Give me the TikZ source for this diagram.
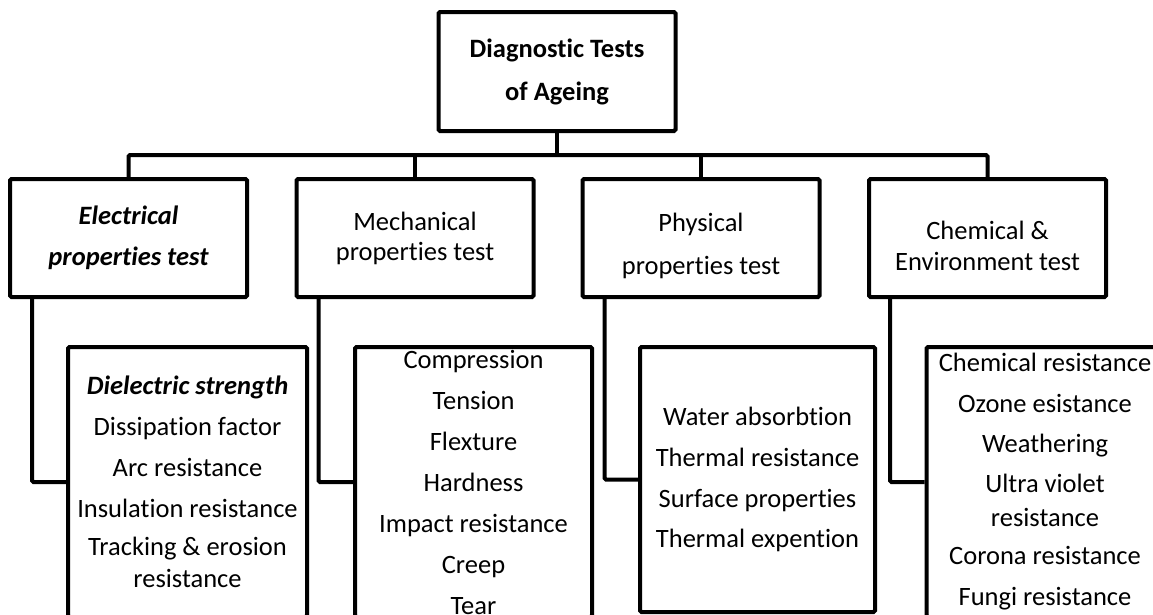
\documentclass[tikz,border=0pt]{standalone}
\usepackage{fontspec}
\setmainfont{Carlito}[Ligatures=CommonOff]

\tikzset{
  headbox/.style={draw, line width=4pt, rounded corners=1.5pt, align=center,
    inner sep=0pt, minimum width=237pt, minimum height=118pt},
  listbox/.style={draw, line width=4pt, rounded corners=1.5pt, align=center,
    inner sep=0pt, minimum width=237pt, minimum height=270pt},
  link/.style={line width=4pt, rounded corners=1.5pt},
}

\begin{document}
\begin{tikzpicture}[x=1pt, y=-1pt, font=\fontsize{26.5}{32}\selectfont]
    \useasboundingbox (0,0) rectangle (1153,614);

    \node (root) [headbox, minimum height=119pt, font=\fontsize{26.5}{32}\selectfont\bfseries] at (557,71.5) {Diagnostic Tests\\[11pt] of Ageing};

    \node (elec) [headbox, font=\fontsize{26.5}{32}\selectfont\bfseries\itshape] at (128.5,238) {Electrical\\[9pt] properties test};
    \node (mech) [headbox] at (415,238) {Mechanical\\[-2pt] properties test};
    \node (phys) [headbox] at (701,238) {\rule{0pt}{34pt}Physical\\[11pt] properties test};
    \node (chem) [headbox] at (987.5,238) {\rule{0pt}{34pt}Chemical \&\\[-1pt] Environment test};

    \node (elist) [listbox, minimum width=239pt] at (187.5,482) {\textbf{\textit{Dielectric strength}}\\[9pt] Dissipation factor\\[9pt] Arc resistance\\[9pt] Insulation resistance\\[6pt] Tracking \& erosion\\ resistance};
    \node (mlist) [listbox] at (473.5,482) {Compression\\[9pt] Tension\\[9pt] Flexture\\[9pt] Hardness\\[9pt] Impact resistance\\[9pt] Creep\\[9pt] Tear};
    \node (plist) [listbox, minimum width=235pt, minimum height=265pt] at (757.5,479.5) {Water absorbtion\\[9pt] Thermal resistance\\[9pt] Surface properties\\[8pt] Thermal expention};
    \node (clist) [listbox] at (1045,482) {Chemical resistance\\[9pt] Ozone esistance\\[8pt] Weathering\\[8pt] Ultra violet\\[2pt] resistance\\[6pt] Corona resistance\\[9pt] Fungi resistance};

    % tree from the root
    \coordinate (bus) at (557,155);
    \draw [link] (root.south) -- (bus);
    \draw [link] (elec.north) |- (bus) -| (chem.north);
    \draw [link] (mech.north) -- (mech.north |- bus);
    \draw [link] (phys.north) -- (phys.north |- bus);

    % each group down to its list
    \draw [link] ([xshift=24pt]elec.south west) |- (elist.west);
    \draw [link] ([xshift=24pt]mech.south west) |- (mlist.west);
    \draw [link] ([xshift=24pt]phys.south west) |- (plist.west);
    \draw [link] ([xshift=23pt]chem.south west) |- (clist.west);

\end{tikzpicture}
\end{document}
